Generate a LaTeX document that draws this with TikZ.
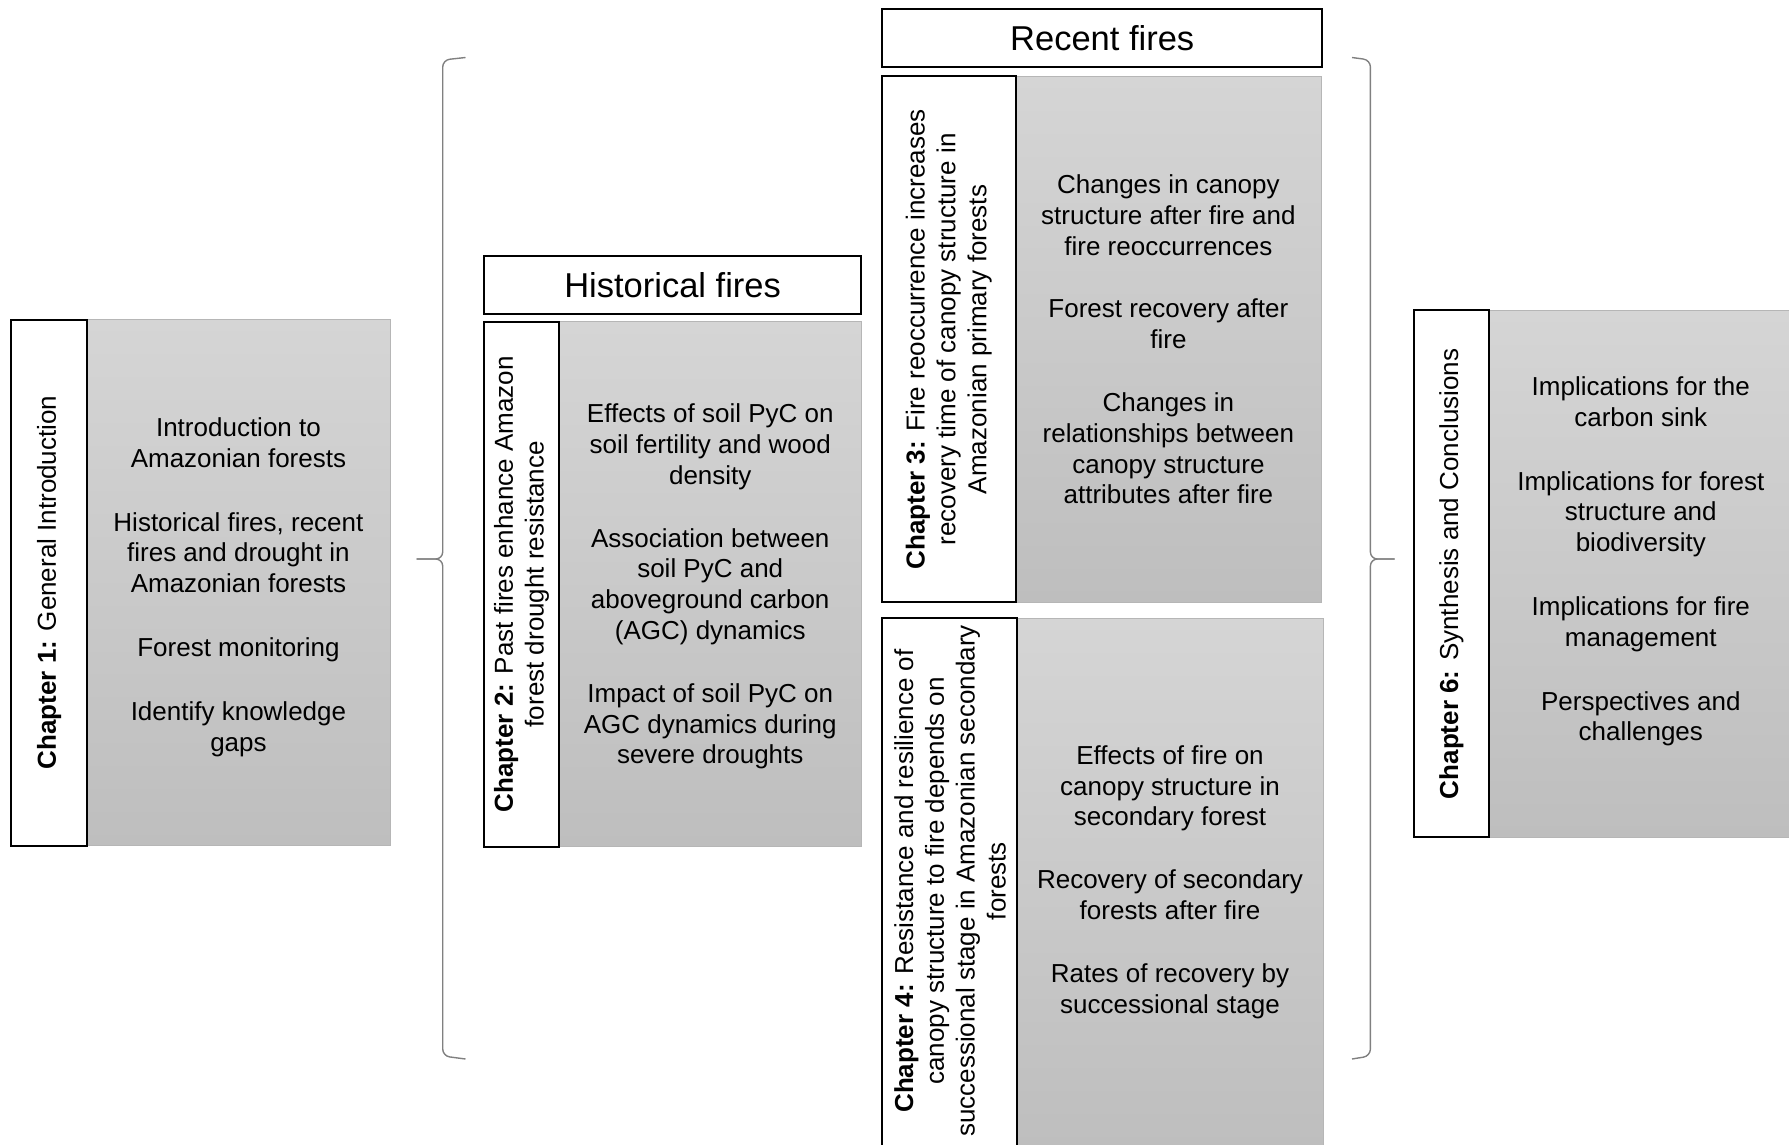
\documentclass[tikz,border=0pt]{standalone}
\usepackage{fontspec}
\setmainfont{Liberation Sans}
\definecolor{gtop}{RGB}{213,213,213}
\definecolor{gbot}{RGB}{190,190,190}
\definecolor{boxedge}{RGB}{182,182,182}
\definecolor{bracegray}{RGB}{128,128,128}
\newcommand{\bodyfnt}{\fontsize{26}{30.8}\selectfont}
\newcommand{\titlefnt}{\fontsize{34.5}{40}\selectfont}
\begin{document}
\begin{tikzpicture}[x=1pt,y=-1pt,
  chap/.style={draw=black, line width=2pt, fill=white, inner sep=0pt, outer sep=0pt, anchor=north west},
  content/.style={draw=boxedge, line width=1.1pt, top color=gtop, bottom color=gbot, inner sep=0pt, outer sep=0pt, anchor=north west},
  body/.style={align=center, font=\bodyfnt, text=black, inner sep=0pt},
  lab/.style={rotate=90, align=center, font=\bodyfnt, text=black, inner sep=0pt},
  titlebox/.style={draw=black, line width=2pt, fill=white, anchor=north west, inner sep=0pt, outer sep=0pt, font=\titlefnt},
  bracepath/.style={draw=bracegray, line width=1.4pt, rounded corners=7pt}
]
\useasboundingbox (0,0) rectangle (1789,1144);

% Chapter 1
\node[content, minimum width=303.5pt, minimum height=526pt] (c1g) at (86.7,319.5) {};
\node[chap, minimum width=75.3pt, minimum height=526pt] (c1w) at (11.4,319.5) {};
\node[lab] (c1l) at (c1w.center) {\textbf{Chapter 1:} General Introduction};
\node[body, yshift=-4.5pt] (c1t) at (c1g.center) {Introduction to\\Amazonian forests\\[33pt]Historical fires, recent\\fires and drought in\\Amazonian forests\\[33pt]Forest monitoring\\[33pt]Identify knowledge\\gaps};

% left brace
\coordinate (lbA) at (465.5,57.5);
\coordinate (lbB) at (442.7,60);
\coordinate (lbC) at (442.7,559);
\coordinate (lbTip) at (416.5,559);
\coordinate (lbD) at (442.7,1056);
\coordinate (lbE) at (465.5,1059);
\draw[bracepath] (lbA) -- (lbB) -- (lbC) -- (lbTip);
\draw[bracepath] (lbTip) -- (lbC) -- (lbD) -- (lbE);

% Historical fires
\node[titlebox, minimum width=377.6pt, minimum height=58.2pt] (hist) at (483.8,255.6) {Historical fires};
\node[content, minimum width=302.3pt, minimum height=524.8pt] (c2g) at (559.1,321.8) {};
\node[chap, minimum width=75.3pt, minimum height=524.8pt] (c2w) at (483.8,321.8) {};
\node[lab] (c2l) at (c2w.center) {\textbf{Chapter 2:} Past fires enhance Amazon\\forest drought resistance};
\node[body, yshift=-2.3pt] (c2t) at (c2g.center) {Effects of soil PyC on\\soil fertility and wood\\density\\[32pt]Association between\\soil PyC and\\aboveground carbon\\(AGC) dynamics\\[32pt]Impact of soil PyC on\\AGC dynamics during\\severe droughts};

% Recent fires
\node[titlebox, minimum width=440.4pt, minimum height=58.2pt] (rec) at (882,9.1) {Recent fires};
\node[content, minimum width=305.8pt, minimum height=526pt] (c3g) at (1015.5,76.4) {};
\node[chap, minimum width=133.5pt, minimum height=526pt] (c3w) at (882,76.4) {};
\node[lab] (c3l) at (c3w.center) {\textbf{Chapter 3:} Fire reoccurrence increases\\recovery time of canopy structure in\\Amazonian primary forests};
\node[body] (c3t) at (c3g.center) {Changes in canopy\\structure after fire and\\fire reoccurrences\\[32pt]Forest recovery after\\fire\\[32pt]Changes in\\relationships between\\canopy structure\\attributes after fire};

% Chapter 4
\node[content, minimum width=307pt, minimum height=530pt] (c4g) at (1016.6,618.4) {};
\node[chap, minimum width=134.6pt, minimum height=530pt] (c4w) at (882,618.4) {};
\coordinate (c4lc) at (950,881);
\coordinate (c4tc) at (1170,882);
\node[lab] (c4l) at (c4lc) {\textbf{Chapter 4:} Resistance and resilience of\\canopy structure to fire depends on\\successional stage in Amazonian secondary\\forests};
\node[body] (c4t) at (c4tc) {Effects of fire on\\canopy structure in\\secondary forest\\[32pt]Recovery of secondary\\forests after fire\\[32pt]Rates of recovery by\\successional stage};

% right brace
\coordinate (rbA) at (1352,57.5);
\coordinate (rbB) at (1370.4,60);
\coordinate (rbC) at (1370.4,559);
\coordinate (rbTip) at (1394.5,559);
\coordinate (rbD) at (1370.4,1056);
\coordinate (rbE) at (1352,1059);
\draw[bracepath] (rbA) -- (rbB) -- (rbC) -- (rbTip);
\draw[bracepath] (rbTip) -- (rbC) -- (rbD) -- (rbE);

% Chapter 6
\node[content, minimum width=305pt, minimum height=527pt] (c6g) at (1489,310.4) {};
\node[chap, minimum width=75.3pt, minimum height=527pt] (c6w) at (1413.7,310.4) {};
\node[lab] (c6l) at (c6w.center) {\textbf{Chapter 6:} Synthesis and Conclusions};
\coordinate (c6tc) at (1640.8,561.5);
\node[body] (c6t) at (c6tc) {Implications for the\\carbon sink\\[33pt]Implications for forest\\structure and\\biodiversity\\[33pt]Implications for fire\\management\\[33pt]Perspectives and\\challenges};
\end{tikzpicture}
\end{document}
